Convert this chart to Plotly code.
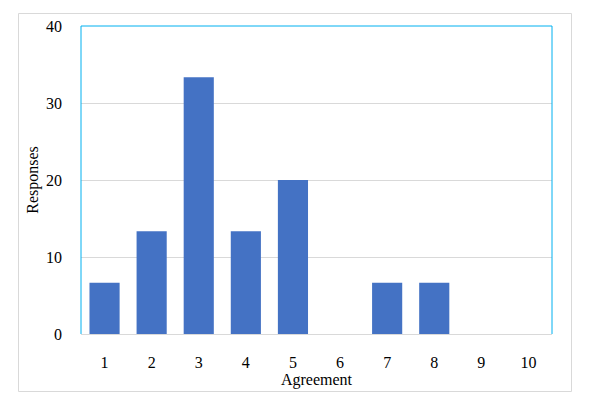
import plotly.graph_objects as go

categories = ["1", "2", "3", "4", "5", "6", "7", "8", "9", "10"]
responses = [6.67, 13.33, 33.33, 13.33, 20, 0, 6.67, 6.67, 0, 0]
y_ticks = [0, 10, 20, 30, 40]

fig = go.Figure(go.Bar(x=categories, y=responses, marker_color="#4472C4",
                       marker_line_width=0, hoverinfo="skip"))

L, R, T, B = 81, 552, 26, 334
W, H = 590, 406
pw, ph = R - L, B - T

def px(x):
    return (x - L) / pw

def py(y):
    return (B - y) / ph

fnt = dict(family="Liberation Serif, Times New Roman, serif", size=16, color="#000000")

fig.update_layout(
    width=W, height=H,
    margin=dict(l=L, r=W - R, t=T, b=H - B, pad=0),
    paper_bgcolor="white", plot_bgcolor="white",
    bargap=0.36,
    showlegend=False,
    font=fnt,
    xaxis=dict(type="category", showgrid=False, showline=True, linecolor="#D9D9D9",
               linewidth=1, ticks="", ticklabelstandoff=14, tickfont=fnt,
               title=dict(text="Agreement", font=fnt, standoff=2)),
    yaxis=dict(range=[0, 40], tickvals=y_ticks, showgrid=True, gridcolor="#D9D9D9",
               gridwidth=1, zeroline=False, showline=False, ticks="",
               ticklabelstandoff=18, tickfont=fnt,
               title=dict(text="Responses", font=fnt, standoff=3)),
    shapes=[
        dict(type="rect", xref="paper", yref="paper", x0=px(18.5), x1=px(571.5),
             y0=py(391.5), y1=py(13.5), line=dict(color="#D9D9D9", width=1), layer="below"),
        dict(type="line", xref="paper", yref="paper", x0=0, x1=0, y0=0, y1=1,
             line=dict(color="#00B0F0", width=1)),
        dict(type="line", xref="paper", yref="paper", x0=0, x1=1, y0=1, y1=1,
             line=dict(color="#00B0F0", width=1)),
        dict(type="line", xref="paper", yref="paper", x0=1, x1=1, y0=0, y1=1,
             line=dict(color="#00B0F0", width=1)),
    ],
)

fig.write_html("out.html", config={"displayModeBar": False},
               post_script="document.body.style.margin='0';")
